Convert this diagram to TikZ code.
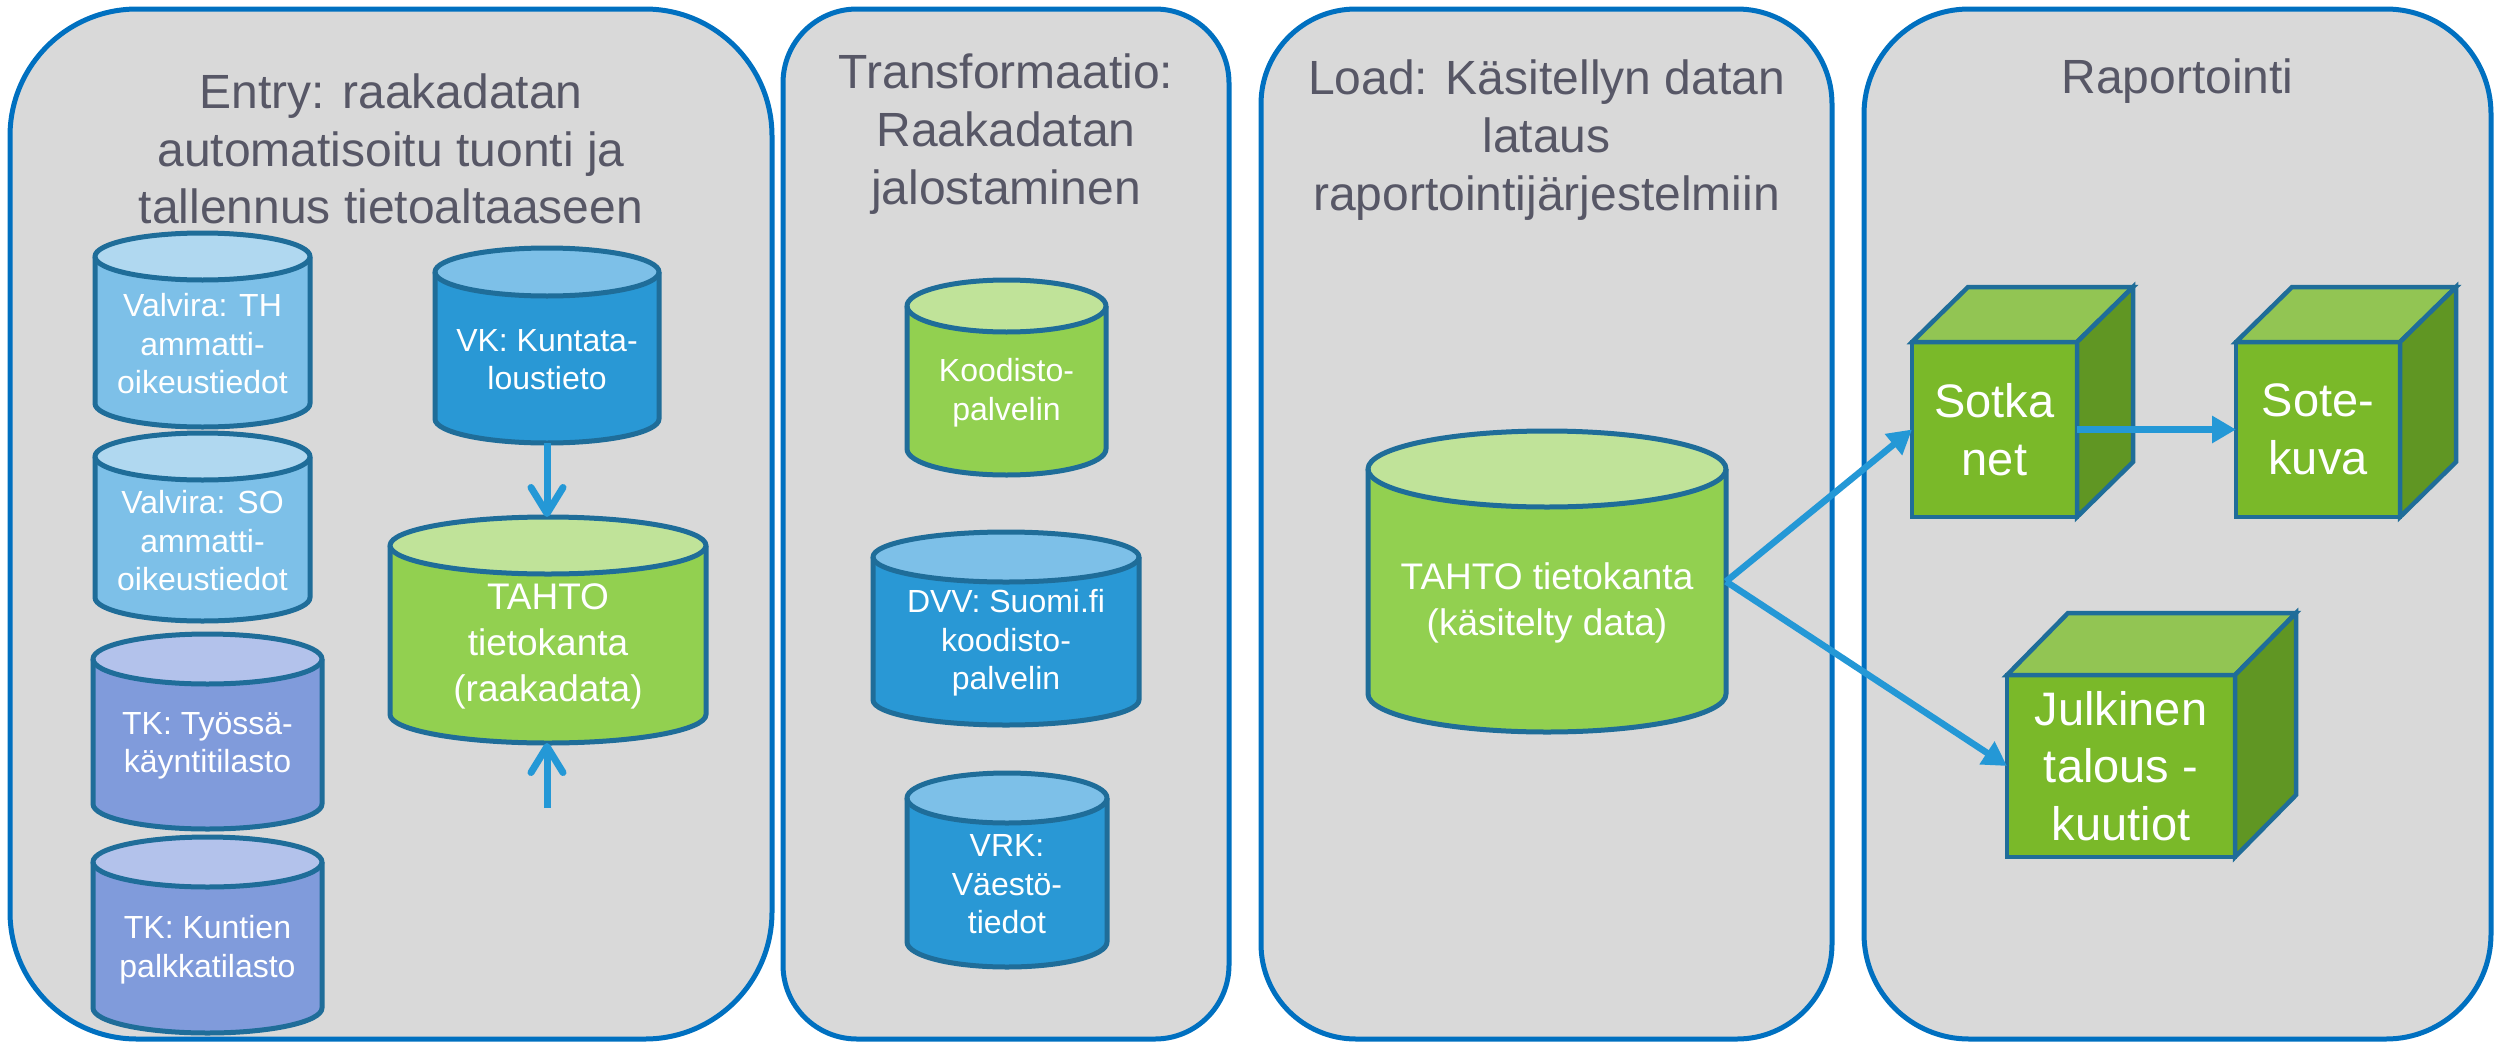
\documentclass[tikz,border=0pt]{standalone}
\usepackage{fontspec}
\setmainfont{Liberation Sans}
\usetikzlibrary{arrows.meta}
\definecolor{panelfill}{RGB}{217,217,217}
\definecolor{panelline}{RGB}{0,112,192}
\definecolor{titlecol}{RGB}{87,87,102}
\definecolor{outl}{RGB}{31,109,153}
\definecolor{arrowcol}{RGB}{36,152,214}
\definecolor{lbtop}{RGB}{176,216,240}
\definecolor{lbbody}{RGB}{125,192,232}
\definecolor{bltop}{RGB}{125,192,232}
\definecolor{blbody}{RGB}{41,152,213}
\definecolor{tktop}{RGB}{179,194,235}
\definecolor{tkbody}{RGB}{128,155,219}
\definecolor{grtop}{RGB}{192,227,153}
\definecolor{grbody}{RGB}{146,208,80}
\definecolor{cubefrontcol}{RGB}{122,185,41}
\definecolor{cubetopcol}{RGB}{146,197,83}
\definecolor{cubesidecol}{RGB}{96,150,35}
\newcommand\cfs{\fontsize{32}{38.5}\selectfont}
\newcommand\cfb{\fontsize{37}{46}\selectfont}
\tikzset{
  panel/.style={draw=panelline, fill=panelfill, line width=5pt, inner sep=0, outer sep=0},
  titletext/.style={text=titlecol, font=\fontsize{48}{57.6}\selectfont, align=center, inner sep=0},
  cylline/.style={draw=outl, line width=5pt, line join=round},
  cylbox/.style={inner sep=0, outer sep=0},
  cyltext/.style={text=white, align=center, inner sep=0},
  cubefront/.style={draw=outl, fill=cubefrontcol, line width=4.5pt, inner sep=0, outer sep=0,
     text=white, align=center, font=\fontsize{47}{57.6}\selectfont},
  cubeface/.style={draw=outl, line width=4.5pt, line join=miter},
  flow/.style={draw=arrowcol, line width=6.5pt, -{Triangle[length=24pt,width=26pt]}},
  feed/.style={draw=arrowcol, line width=7pt, -{Straight Barb[length=26pt,width=32pt,round]}},
}
% #1 name, #2 cx, #3 top-ellipse centre y, #4 bottom-ellipse centre y, #5 half width, #6 y radius,
% #7 colour prefix, #8 font, #9 text
\newcommand\dbcyl[9]{%
  \fill[#7body] (#2-#5,-#3) -- (#2-#5,-#4) arc[start angle=180,end angle=360,x radius=#5pt,y radius=#6pt] -- (#2+#5,-#3) -- cycle;
  \fill[#7top] (#2,-#3) ellipse[x radius=#5pt,y radius=#6pt];
  \draw[cylline] (#2-#5,-#3) -- (#2-#5,-#4) arc[start angle=180,end angle=360,x radius=#5pt,y radius=#6pt] -- (#2+#5,-#3);
  \draw[cylline] (#2,-#3) ellipse[x radius=#5pt,y radius=#6pt];
  \node[cylbox, minimum width={2*#5pt}, minimum height={(#4-#3+2*#6)*1pt}] (#1) at (#2,{-(#3+#4)/2}) {};
  \node[cyltext, font=#8] (#1-t) at (#2,{-(#3+#4+#6)/2-2}) {#9};
}
% #1 name, #2 left x, #3 top y, #4 width, #5 height, #6 depth dx, #7 depth dy, #8 text
\newcommand\rcube[8]{%
  \node[cubefront, minimum width=#4pt, minimum height=#5pt] (#1) at ({#2+#4/2},{-(#3+#5/2)}) {#8};
  \filldraw[cubeface, fill=cubetopcol] (#1.north west) -- ++(#6,#7) -- ++(#4,0) -- (#1.north east) -- cycle;
  \filldraw[cubeface, fill=cubesidecol] (#1.north east) -- ++(#6,#7) -- ++(0,-#5) -- (#1.south east) -- cycle;
}
\begin{document}
\begin{tikzpicture}[x=1pt,y=1pt]
\useasboundingbox (0,0) rectangle (2494,-1044);
% panels
\node[panel, rounded corners=127pt, minimum width=762pt, minimum height=1030pt] (p1) at (391,-524) {};
\node[panel, rounded corners=74pt, minimum width=446pt, minimum height=1030pt] (p2) at (1006,-524) {};
\node[panel, rounded corners=95pt, minimum width=571pt, minimum height=1030pt] (p3) at (1546.5,-524) {};
\node[panel, rounded corners=105pt, minimum width=627pt, minimum height=1030pt] (p4) at (2177.5,-524) {};
% titles
\node[titletext] (t1) at (391,-149) {Entry: raakadatan\\automatisoitu tuonti ja\\tallennus tietoaltaaseen};
\node[titletext] (t2) at (1006,-134) {Transformaatio:\\Raakadatan\\jalostaminen};
\node[titletext] (t3) at (1546.5,-140) {Load: Käsitellyn datan\\lataus\\raportointijärjestelmiin};
\node[titletext, anchor=base] (t4) at (2177.5,-93) {Raportointi};
% entry cylinders
\dbcyl{vth}{202.5}{256.5}{403.5}{107.5}{23.5}{lb}{\cfs}{Valvira: TH\\ammatti-\\oikeustiedot}
\dbcyl{vso}{202.5}{456.5}{597.5}{107.5}{23.5}{lb}{\cfs}{Valvira: SO\\ammatti-\\oikeustiedot}
\dbcyl{tkt}{207.5}{659}{804}{114.5}{25}{tk}{\cfs}{TK: Työssä-\\käyntitilasto}
\dbcyl{tkk}{207.5}{862}{1008}{114.5}{25}{tk}{\cfs}{TK: Kuntien\\palkkatilasto}
\dbcyl{vk}{547}{272}{419}{112}{24}{bl}{\cfs}{VK: Kuntata-\\loustieto}
\dbcyl{traw}{548}{545.5}{714.5}{158}{28.5}{gr}{\cfb}{TAHTO\\tietokanta\\(raakadata)}
% transformation cylinders
\dbcyl{koodi}{1006.5}{306}{449}{99.5}{26}{gr}{\cfs}{Koodisto-\\palvelin}
\dbcyl{dvv}{1006}{557}{700}{133}{25}{bl}{\cfs}{DVV: Suomi.fi\\koodisto-\\palvelin}
\dbcyl{vrk}{1007}{798}{942}{100}{25}{bl}{\cfs}{VRK:\\Väestö-\\tiedot}
% load cylinder
\dbcyl{tdone}{1547}{469}{694}{179}{38}{gr}{\cfb}{TAHTO tietokanta\\(käsitelty data)}
% cubes
\rcube{sotka}{1912}{342}{165}{175}{56}{55}{Sotka\\net}
\rcube{sote}{2236}{342}{164}{175}{56}{55}{Sote-\\kuva}
\rcube{julk}{2007}{675}{228}{182}{61}{62}{Julkinen\\talous -\\kuutiot}
% connectors
\draw[feed] (vk.south) -- (vk.south |- traw.north);
\coordinate (feedin) at (547,-808);
\draw[feed] (feedin) -- (feedin |- traw.south);
\draw[flow] (tdone.east) -- (sotka.west);
\draw[flow] (tdone.east) -- (julk.west);
\draw[flow] (sotka.east) -- (sote.west);
\end{tikzpicture}
\end{document}
